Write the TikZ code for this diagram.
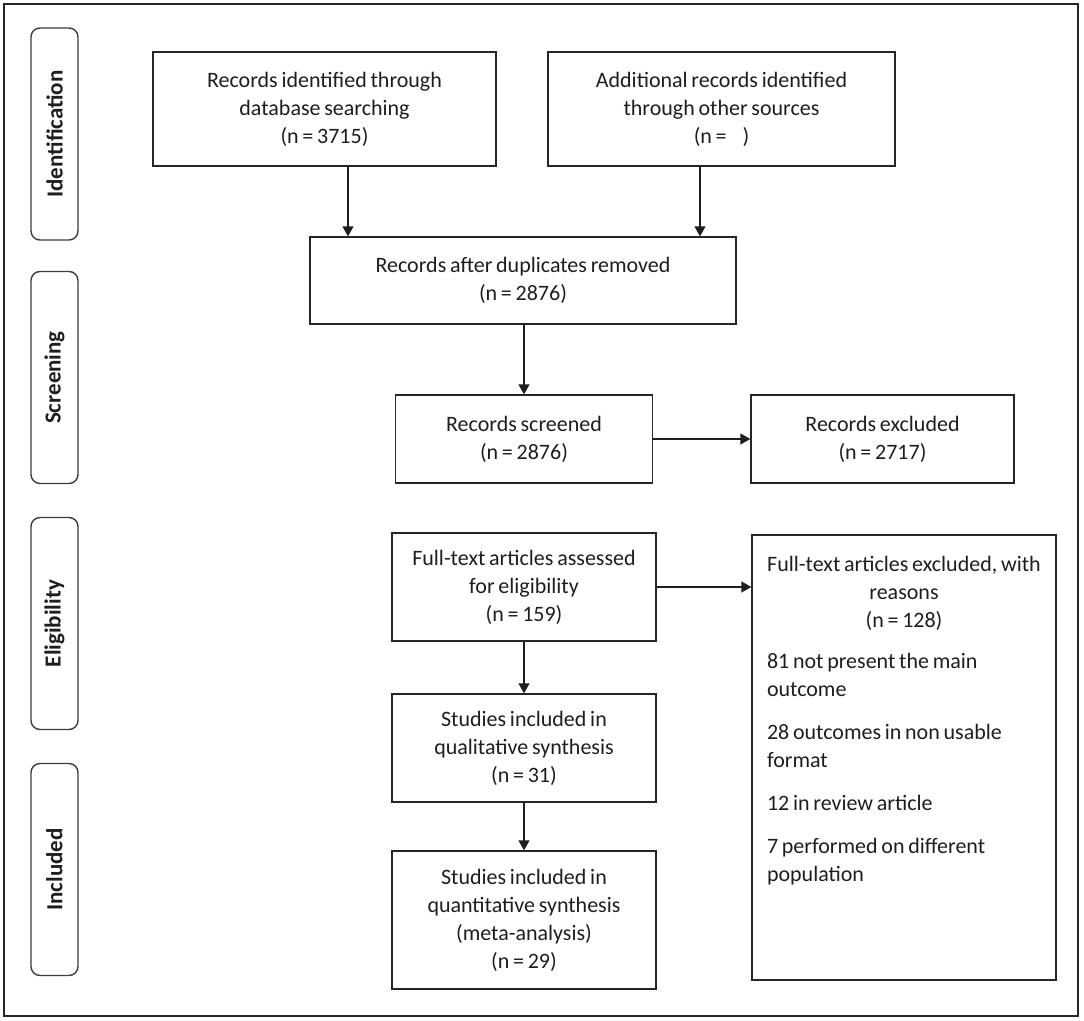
\documentclass[tikz,border=0pt]{standalone}
\usepackage{fontspec}
\setmainfont{Carlito}[WordSpace={0.75}]
\usetikzlibrary{arrows.meta}
\definecolor{ink}{HTML}{1E1E1E}
\definecolor{edge}{HTML}{262626}
\begin{document}
\begin{tikzpicture}[x=1pt,y=-1pt,
  box/.style={draw=edge, line width=1.3pt, inner sep=0pt, align=center, text=ink,
    font=\fontsize{22}{28}\selectfont},
  phase/.style={draw=edge!90, line width=1.4pt, rounded corners=9pt, rotate=90,
    minimum width=212pt, minimum height=47pt, inner sep=0pt, text=ink,
    font=\fontsize{23}{28}\selectfont\bfseries},
  arr/.style={draw=ink, line width=1.3pt, -{Triangle[length=10pt,width=11pt]}}
]
\useasboundingbox (0,0) rectangle (1084,1020);
\draw[line width=2pt, draw=edge] (4,4) rectangle (1078,1016);

% phase labels
\node[phase] (pid) at (54.5,134) {Identification};
\node[phase] (psc) at (54.5,377.5) {Screening};
\node[phase] (pel) at (54.5,623.5) {Eligibility};
\node[phase] (pin) at (54.5,869.5) {Included};

% boxes
\node[box, minimum width=343pt, minimum height=114pt] (b1) at (324.5,109)
  {Records identified through\\database searching\\(n = 3715)};
\node[box, minimum width=347pt, minimum height=114pt] (b2) at (721.5,109)
  {Additional records identified\\through other sources\\(n = \hspace{0.55em})};
\node[box, minimum width=426pt, minimum height=87pt] (b3) at (523,280.5)
  {Records after duplicates removed\\(n = 2876)};
\node[box, minimum width=257pt, minimum height=88pt] (b4) at (524,439)
  {Records screened\\(n = 2876)};
\node[box, minimum width=263pt, minimum height=88pt] (b5) at (882.5,439)
  {Records excluded\\(n = 2717)};
\node[box, minimum width=264pt, minimum height=108pt] (b6) at (524,587)
  {Full-text articles assessed\\for eligibility\\(n = 159)};
\node[box, inner xsep=15pt, inner ysep=0pt, minimum width=304pt, minimum height=445pt, align=left] (b7) at (904,757.5)
  {\parbox[c][445pt][t]{274pt}{\setlength{\parskip}{15pt}%
   {\centering\makebox[\linewidth]{\rule{0pt}{36pt}Full-text articles excluded, with}\\reasons\\(n = 128)\par}%
   \vspace{-2pt}\raggedright
   81 not present the main\\outcome\par
   28 outcomes in non usable\\format\par
   12 in review article\par
   7 performed on different\\population\par}};
\node[box, minimum width=264pt, minimum height=108pt] (b8) at (524,748)
  {Studies included in\\qualitative synthesis\\(n = 31)};
\node[box, minimum width=264pt, minimum height=138pt] (b9) at (524,920)
  {Studies included in\\quantitative synthesis\\(meta-analysis)\\(n = 29)};

% connectors
\coordinate (xa) at (348,0);
\coordinate (xb) at (700,0);
\draw[arr] (xa |- b1.south) -- (xa |- b3.north);
\draw[arr] (xb |- b2.south) -- (xb |- b3.north);
\draw[arr] (b4.north |- b3.south) -- (b4.north);
\draw[arr] (b4.east) -- (b5.west);
\draw[arr] (b6.east) -- (b6.east -| b7.west);
\draw[arr] (b6.south) -- (b8.north);
\draw[arr] (b8.south) -- (b9.north);
\end{tikzpicture}
\end{document}
